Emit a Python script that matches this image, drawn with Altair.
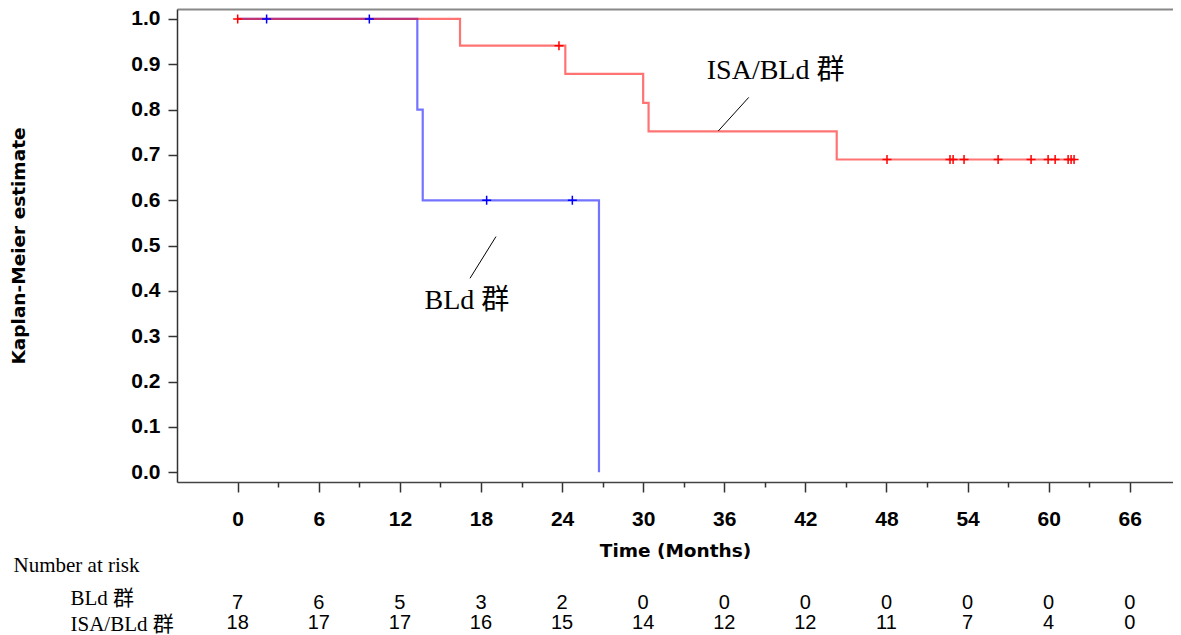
import altair as alt
import pandas as pd

# ---------------- data ----------------
groups = ["BLd 群", "ISA/BLd 群"]
group_colors = ["#0000ff", "#ff0000"]

# Kaplan-Meier step curves (time in months, survival estimate)
bld_times = [0.0, 13.29, 13.69, 26.73]
bld_surv = [1.0, 0.80, 0.60, 0.0]
isa_times = [0.0, 16.45, 24.24, 30.0, 30.4, 44.32, 61.88]
isa_surv = [1.0, 0.941, 0.879, 0.815, 0.752, 0.690, 0.690]

# censored observations
bld_cens_t = [2.14, 9.74, 18.42, 24.76]
bld_cens_s = [1.0, 1.0, 0.60, 0.60]
isa_cens_t = [0.0, 23.77, 48.04, 52.7, 52.93, 53.74, 56.26, 58.7, 59.96, 60.48, 61.44, 61.66, 61.88]
isa_cens_s = [1.0, 0.941, 0.69, 0.69, 0.69, 0.69, 0.69, 0.69, 0.69, 0.69, 0.69, 0.69, 0.69]

# number at risk table
risk_times = [0, 6, 12, 18, 24, 30, 36, 42, 48, 54, 60, 66]
bld_risk = [7, 6, 5, 3, 2, 0, 0, 0, 0, 0, 0, 0]
isa_risk = [18, 17, 17, 16, 15, 14, 12, 12, 11, 7, 4, 0]

minor_ticks = [3, 9, 15, 21, 27, 33, 39, 45, 51, 57, 63]
y_ticks = [0.0, 0.1, 0.2, 0.3, 0.4, 0.5, 0.6, 0.7, 0.8, 0.9, 1.0]

# curve labels and their leader lines
label_text = ["ISA/BLd 群", "BLd 群"]
label_t = [39.8, 16.96]
label_s = [0.886, 0.378]
leader_t1 = [37.81, 19.11]
leader_s1 = [0.827, 0.52]
leader_t2 = [35.56, 17.19]
leader_s2 = [0.753, 0.428]

# ---------------- tables ----------------
lines_df = pd.DataFrame({
    "group": [groups[0]] * len(bld_times) + [groups[1]] * len(isa_times),
    "time": bld_times + isa_times,
    "surv": bld_surv + isa_surv,
    "idx": list(range(len(bld_times))) + list(range(len(isa_times))),
})
cens_df = pd.DataFrame({
    "group": [groups[0]] * len(bld_cens_t) + [groups[1]] * len(isa_cens_t),
    "time": bld_cens_t + isa_cens_t,
    "surv": bld_cens_s + isa_cens_s,
})
risk_df = pd.DataFrame({
    "group": [groups[0]] * len(risk_times) + [groups[1]] * len(risk_times),
    "time": risk_times + risk_times,
    "n": bld_risk + isa_risk,
})
label_df = pd.DataFrame({"label": label_text, "t": label_t, "s": label_s})
leader_df = pd.DataFrame({"t1": leader_t1, "s1": leader_s1, "t2": leader_t2, "s2": leader_s2})

# ---------------- scales ----------------
W, H = 996, 473
xscale = alt.Scale(domain=[-4.49, 69.2], nice=False, zero=False)
yscale = alt.Scale(domain=[-0.0214, 1.022], nice=False, zero=False)
color = alt.Color("group:N", scale=alt.Scale(domain=groups, range=group_colors), legend=None)

SANS = "Liberation Sans"
TITLE_SANS = "DejaVu Sans"
SERIF = "Liberation Serif, Noto Sans CJK SC, serif"

x_main_axis = alt.Axis(
    values=risk_times, orient="bottom", grid=False,
    tickSize=10, tickWidth=1.5, tickColor="#333333",
    domainColor="#444444", domainWidth=1.5,
    labelFont=SANS, labelFontWeight="bold", labelFontSize=21, labelColor="black",
    labelPadding=16, labelFlush=False, labelOverlap=False,
    title="Time (Months)", titleFont=TITLE_SANS, titleFontWeight="bold", titleFontSize=18.5,
    titleColor="black", titleY=68, titleBaseline="middle",
)
y_main_axis = alt.Axis(
    values=y_ticks, format=".1f", grid=False,
    tickSize=9, tickWidth=1.5, tickColor="#333333",
    domainColor="#333333", domainWidth=1.5,
    labelFont=SANS, labelFontWeight="bold", labelFontSize=21, labelColor="black",
    labelPadding=8, labelOverlap=False,
    title="Kaplan-Meier estimate", titleFont=TITLE_SANS, titleFontWeight="bold", titleFontSize=18.5,
    titleColor="black", titleX=-159, titleBaseline="middle",
)
x_minor_axis = alt.Axis(
    values=minor_ticks, orient="bottom", grid=False, domain=False, labels=False,
    tickSize=5, tickWidth=1.5, tickColor="#333333", title=None,
)
x_top_axis = alt.Axis(
    orient="top", grid=False, ticks=False, labels=False,
    domainColor="#888888", domainWidth=2, title=None,
)

lines = alt.Chart(lines_df).mark_line(
    interpolate="step-after", strokeWidth=2.2, opacity=0.55
).encode(
    x=alt.X("time:Q", scale=xscale, axis=x_main_axis),
    y=alt.Y("surv:Q", scale=yscale, axis=y_main_axis),
    color=color,
    order=alt.Order("idx:Q"),
)

cens = alt.Chart(cens_df).mark_point(
    shape="M-1,0L1,0M0,-1L0,1", size=81, filled=False, strokeWidth=1.5, opacity=1
).encode(
    x=alt.X("time:Q", scale=xscale, axis=x_minor_axis),
    y=alt.Y("surv:Q", scale=yscale, axis=None),
    color=color,
)

leaders = alt.Chart(leader_df).mark_rule(color="black", strokeWidth=1).encode(
    x=alt.X("t1:Q", scale=xscale, axis=x_top_axis),
    y=alt.Y("s1:Q", scale=yscale, axis=None),
    x2="t2:Q",
    y2="s2:Q",
)

labels = alt.Chart(label_df).mark_text(
    font=SERIF, fontSize=28, color="black", align="center", baseline="middle"
).encode(
    x=alt.X("t:Q", scale=xscale, axis=None),
    y=alt.Y("s:Q", scale=yscale, axis=None),
    text="label:N",
)

risk_axis = alt.Axis(
    orient="left", grid=False, domain=False, ticks=False, tickSize=0,
    labelAlign="left", labelPadding=107, labelFont=SERIF, labelFontSize=21,
    labelColor="black", labelBaseline="middle",
    labelOffset={"condition": {"test": "datum.value === 'BLd 群'", "value": -5}, "value": 1},
    title="Number at risk", titleAngle=0, titleAlign="left", titleBaseline="middle",
    titleX=-164, titleY=556, titleFont=SERIF, titleFontSize=21,
    titleFontWeight="normal", titleColor="black",
)
risk = alt.Chart(risk_df).mark_text(
    font=SANS, fontSize=20, color="black", align="center", baseline="middle"
).encode(
    x=alt.X("time:Q", scale=xscale, axis=None),
    y=alt.Y("group:N", scale=alt.Scale(domain=groups, range=[594, 614], padding=0), axis=risk_axis),
    text="n:Q",
)

chart = alt.layer(lines, cens, leaders, labels, risk).resolve_scale(
    y="independent"
).resolve_axis(
    x="independent", y="independent"
).properties(
    width=W, height=H,
    autosize=alt.AutoSizeParams(type="none"),
    padding={"left": 169, "top": 1, "right": 0, "bottom": 153},
).configure_view(stroke=None)

chart.save("out.html", embed_options={"renderer": "svg", "actions": False})
